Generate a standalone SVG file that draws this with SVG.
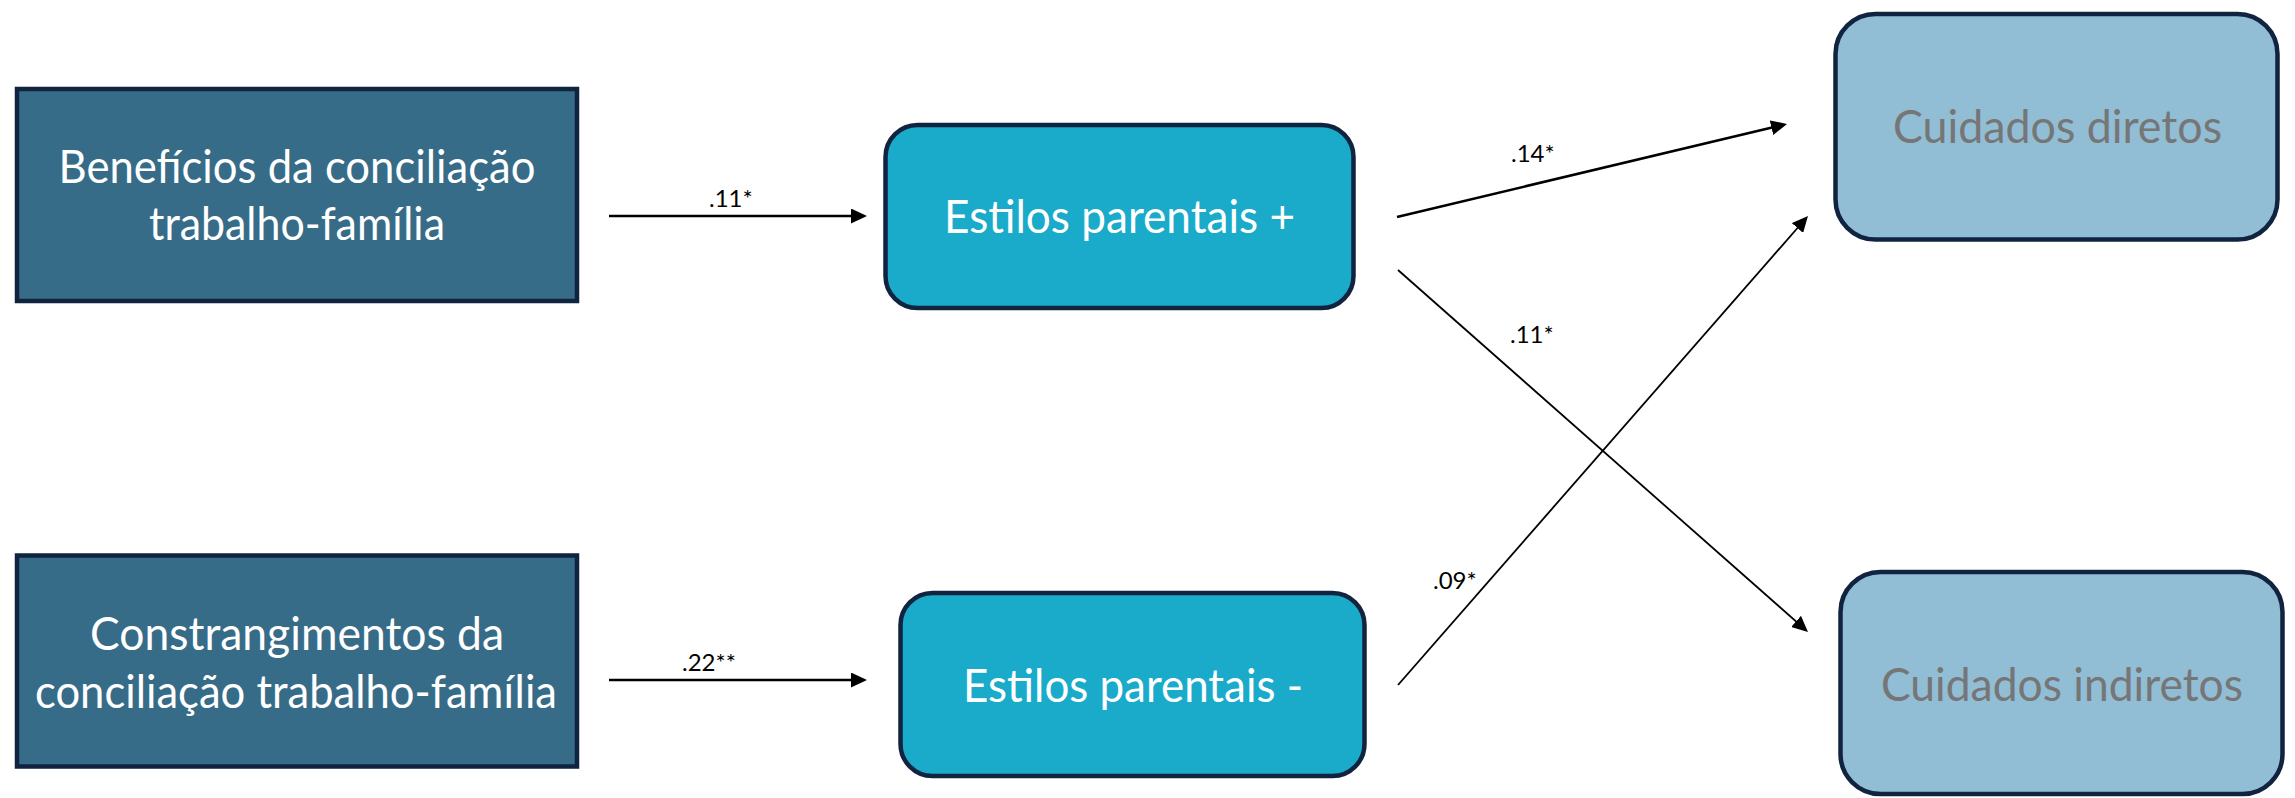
<svg xmlns="http://www.w3.org/2000/svg" width="2295" height="798" viewBox="0 0 2295 798">
  <style>
    .src { fill: #376C89; stroke: #10233F; stroke-width: 4.5; }
    .med { fill: #1AAACA; stroke: #10233F; stroke-width: 4.5; }
    .out { fill: #91BDD5; stroke: #10233F; stroke-width: 4.5; }
    .t { font-family: Lato, "Liberation Sans", sans-serif; font-size: 46px; text-anchor: middle; }
    .w { fill: #FFFFFF; }
    .g { fill: #767676; }
    .lbl { font-family: Lato, "Liberation Sans", sans-serif; font-size: 24px; fill: #000000; }
    .thick { stroke: #000000; stroke-width: 2.6; fill: none; marker-end: url(#ah); }
    .thin { stroke: #000000; stroke-width: 1.8; fill: none; marker-end: url(#ah); }
  </style>
  <defs>
    <marker id="ah" markerUnits="userSpaceOnUse" markerWidth="16" markerHeight="15" refX="6" refY="7.5" orient="auto" viewBox="0 0 16 15">
      <path d="M0,0 L16,7.5 L0,15 z" fill="#000000"/>
    </marker>
  </defs>
  <rect x="0" y="0" width="2295" height="798" fill="#FFFFFF"/>

  <g id="beneficios">
    <rect class="src" x="17" y="89" width="560" height="212"/>
    <text class="t w" x="297" y="183" textLength="477" lengthAdjust="spacingAndGlyphs">Benefícios da conciliação</text>
    <text class="t w" x="297" y="240" textLength="296" lengthAdjust="spacingAndGlyphs">trabalho-família</text>
  </g>

  <g id="constrangimentos">
    <rect class="src" x="17" y="555.5" width="560" height="211"/>
    <text class="t w" x="297" y="650" textLength="414" lengthAdjust="spacingAndGlyphs">Constrangimentos da</text>
    <text class="t w" x="296" y="708" textLength="522" lengthAdjust="spacingAndGlyphs">conciliação trabalho-família</text>
  </g>

  <g id="estilos-pos">
    <rect class="med" x="885.5" y="125" width="468" height="183" rx="32" ry="32"/>
    <text class="t w" x="1119.5" y="233" textLength="351" lengthAdjust="spacingAndGlyphs">Estilos parentais +</text>
  </g>

  <g id="estilos-neg">
    <rect class="med" x="900.5" y="593" width="464" height="183" rx="32" ry="32"/>
    <text class="t w" x="1133" y="702" textLength="340" lengthAdjust="spacingAndGlyphs">Estilos parentais -</text>
  </g>

  <g id="cuidados-diretos">
    <rect class="out" x="1835.5" y="14" width="442" height="225.5" rx="40" ry="40"/>
    <text class="t g" x="2057.5" y="143" textLength="329" lengthAdjust="spacingAndGlyphs">Cuidados diretos</text>
  </g>

  <g id="cuidados-indiretos">
    <rect class="out" x="1840.5" y="572" width="442" height="222" rx="40" ry="40"/>
    <text class="t g" x="2062" y="701" textLength="362" lengthAdjust="spacingAndGlyphs">Cuidados indiretos</text>
  </g>

  <g id="connectors">
    <line class="thick" x1="609" y1="216" x2="857" y2="216"/>
    <line class="thick" x1="609" y1="680" x2="857" y2="680"/>
    <line class="thick" x1="1397" y1="217" x2="1777.3" y2="126.3"/>
    <line class="thin" x1="1398" y1="270" x2="1800.5" y2="625.4"/>
    <line class="thin" x1="1398" y1="685" x2="1801.4" y2="223.5"/>
    <text class="lbl" x="709" y="207">.11*</text>
    <text class="lbl" x="682" y="671">.22**</text>
    <text class="lbl" x="1511" y="162">.14*</text>
    <text class="lbl" x="1510" y="343">.11*</text>
    <text class="lbl" x="1433" y="589">.09*</text>
  </g>
</svg>
